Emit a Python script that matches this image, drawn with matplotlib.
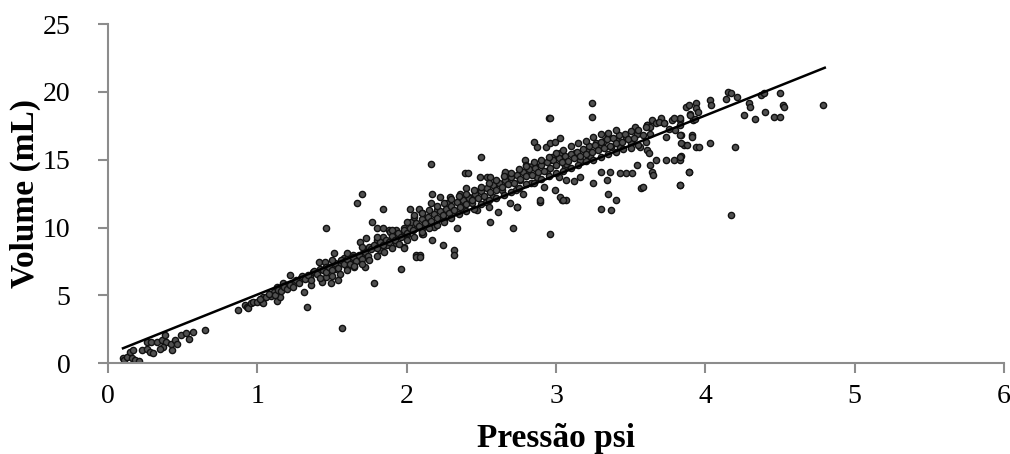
import numpy as np
import matplotlib
matplotlib.use("Agg")
import matplotlib.pyplot as plt

# pressao (psi) x volume (mL)
faixa_baixa = [
    (0.10, 0.35), (0.11, 0.22), (0.125, 0.46), (0.15, 0.83), (0.16, 0.35), (0.17, 0.96),
    (0.18, 0.22), (0.21, 0.17), (0.23, 0.96), (0.26, 1.08), (0.28, 0.83), (0.30, 0.72),
    (0.26, 1.57), (0.29, 1.57), (0.33, 1.57), (0.36, 1.70), (0.38, 2.06), (0.39, 1.57),
    (0.37, 1.20), (0.35, 1.08), (0.43, 0.96), (0.42, 1.45), (0.45, 1.70), (0.46, 1.45),
    (0.49, 2.06), (0.52, 2.19), (0.54, 1.82), (0.57, 2.30), (0.65, 2.43),
    (0.87, 3.90), (0.92, 4.28), (0.93, 4.15), (0.94, 4.10), (0.96, 4.45), (0.97, 4.52),
    (1.00, 4.50), (1.03, 4.52), (1.04, 4.45), (1.04, 4.89), (1.09, 4.94), (1.11, 5.26),
    (1.13, 4.60), (1.13, 5.63), (1.15, 4.89), (1.17, 5.88), (1.21, 5.75), (1.22, 6.49),
    (1.25, 6.00), (1.29, 6.25), (1.31, 5.26), (1.33, 4.15), (1.35, 6.36), (1.36, 5.75),
    (1.375, 6.73), (1.41, 7.47), (1.42, 6.98), (1.43, 6.00), (1.45, 7.47), (1.46, 6.36),
    (1.46, 7.10), (1.46, 9.95), (1.49, 5.88), (1.51, 8.09), (1.52, 6.98), (1.54, 6.12),
    (1.55, 7.35), (1.57, 2.56), (1.58, 7.72), (1.60, 7.10), (1.62, 7.60), (1.64, 7.96),
    (1.65, 7.10), (1.67, 11.8), (1.70, 12.5), (1.68, 7.60), (1.69, 8.95), (1.71, 8.09),
    (1.72, 7.10), (1.73, 9.20), (1.75, 8.58), (1.77, 10.4), (1.78, 5.88), (1.80, 9.07),
    (1.80, 9.93), (1.82, 8.33), (1.84, 9.31), (1.84, 9.93), (1.84, 11.4), (1.87, 8.70),
    (1.88, 9.80), (1.91, 9.20), (1.93, 8.83), (1.96, 6.98), (1.98, 8.58), (1.98, 9.68),
]

faixa_media = [
    (2.00, 9.44), (2.02, 9.80), (2.06, 7.96), (2.09, 7.96), (2.07, 10.05), (2.10, 9.56),
    (1.89, 9.68), (1.93, 9.80), (1.98, 9.93), (1.98, 8.46), (2.02, 11.4), (2.03, 10.4),
    (2.05, 10.8), (2.06, 7.84), (2.09, 7.84), (2.08, 11.4), (2.10, 11.04), (2.11, 10.05),
    (2.11, 9.56), (2.13, 10.5), (2.16, 14.7), (2.16, 11.78), (2.17, 9.07), (2.18, 10.05),
    (2.17, 12.5), (2.20, 11.28), (2.22, 12.26), (2.24, 8.70), (2.25, 10.55), (2.27, 11.78),
    (2.29, 12.26), (2.31, 11.16), (2.32, 8.33), (2.32, 7.96), (2.34, 9.93), (2.35, 11.78),
    (2.36, 12.5), (2.37, 11.4), (2.39, 14.0), (2.41, 14.0), (2.40, 12.9), (2.42, 12.26),
    (2.44, 11.78), (2.47, 11.28), (2.49, 12.76), (2.49, 13.74), (2.50, 15.2), (2.54, 13.74),
    (2.56, 13.74), (2.53, 11.9), (2.55, 11.5), (2.56, 10.4), (2.58, 12.26), (2.60, 13.25),
    (2.61, 11.16), (2.64, 12.76), (2.66, 14.0), (2.67, 13.25), (2.69, 11.78), (2.71, 9.93),
    (2.73, 12.76), (2.74, 11.5), (2.76, 13.5), (2.78, 12.5), (2.79, 15.0), (2.80, 14.2),
    (2.83, 13.25), (2.85, 14.6), (2.87, 13.74), (2.89, 11.9), (2.92, 13.0), (2.94, 14.2),
    (2.96, 9.56), (2.97, 15.2), (2.99, 12.76), (3.02, 13.74), (3.03, 15.5), (3.04, 12.0),
    (3.06, 14.5), (3.07, 12.0), (2.95, 18.1), (2.96, 18.05), (3.24, 19.15), (3.24, 18.16),
    (2.85, 16.3), (2.87, 15.95), (2.93, 15.95), (2.96, 16.2), (2.99, 16.3), (3.03, 16.6),
    (2.66, 14.1), (2.80, 14.6), (2.84, 14.5), (2.96, 15.0), (3.07, 14.7), (3.13, 15.5),
    (3.16, 15.0), (3.21, 15.7), (3.23, 15.3), (3.27, 16.2), (3.30, 15.95), (3.32, 16.4),
]

faixa_alta = [
    (3.35, 16.7), (3.37, 15.95), (3.41, 16.4), (3.43, 15.95), (3.47, 16.7), (3.50, 16.2),
    (3.53, 17.4), (3.54, 16.9), (3.56, 15.95), (3.61, 17.55), (3.63, 16.9), (3.64, 17.9),
    (3.67, 17.7), (3.70, 17.9), (3.72, 17.7), (3.74, 16.7), (3.78, 17.9), (3.80, 17.2),
    (3.83, 17.9), (3.84, 16.8), (3.87, 18.9), (3.90, 18.4), (3.92, 17.9), (3.91, 16.8),
    (3.86, 16.1), (3.94, 15.95), (3.74, 15.0), (3.79, 15.0), (3.83, 15.0), (3.84, 15.25),
    (3.67, 15.0), (3.61, 15.7), (3.62, 15.5), (3.63, 14.6), (3.64, 14.1), (3.65, 13.86),
    (3.57, 12.9), (3.89, 14.1), (3.83, 13.1), (3.54, 14.6), (3.47, 14.0), (3.43, 14.0),
    (3.51, 14.0), (3.36, 14.1), (3.30, 14.1), (3.34, 13.5), (3.35, 12.5), (3.40, 12.0),
    (3.30, 11.4), (3.37, 11.28), (3.25, 13.25), (3.16, 13.74), (3.07, 13.5), (3.12, 13.4),
    (3.03, 12.26), (3.05, 12.0), (2.89, 12.0), (2.74, 11.5),
    (4.15, 20.0), (4.17, 19.9), (4.21, 19.6), (4.14, 19.5), (4.03, 19.4), (4.04, 19.0),
    (3.89, 19.0), (3.94, 19.15), (3.94, 18.8), (3.90, 18.3), (3.93, 18.0), (3.95, 18.5),
    (3.83, 18.05), (3.79, 18.05), (3.70, 18.05), (3.69, 17.8), (3.72, 17.7), (3.61, 17.55),
    (3.63, 17.4), (4.29, 19.15), (4.30, 18.9), (4.37, 19.8), (4.39, 19.9), (4.50, 19.9),
    (4.52, 19.0), (4.53, 18.9), (4.79, 19.0), (4.26, 18.3), (4.33, 18.0), (4.40, 18.5),
    (4.46, 18.16), (4.50, 18.16), (4.03, 16.2), (4.20, 15.95), (3.96, 15.95), (3.91, 16.7),
    (3.83, 16.8), (3.84, 16.2), (3.76, 17.3), (3.83, 17.55), (3.88, 16.1), (3.89, 14.1),
    (3.83, 13.1), (3.83, 15.2), (3.58, 13.0), (4.17, 10.9),
]

faixa_densa = [
    (1.02, 4.7), (1.06, 4.9), (1.08, 5.1), (1.12, 5.0), (1.14, 5.4), (1.16, 5.3), (1.18, 5.6),
    (1.20, 5.5), (1.22, 5.8), (1.24, 5.6), (1.26, 6.1), (1.28, 5.9), (1.30, 6.4), (1.32, 6.2),
    (1.34, 6.5), (1.36, 6.1), (1.38, 6.8), (1.40, 6.6), (1.42, 6.3), (1.44, 6.9), (1.46, 6.7),
    (1.48, 7.1), (1.50, 6.9), (1.52, 7.4), (1.54, 7.0), (1.56, 7.6), (1.58, 7.3), (1.60, 7.7),
    (1.62, 7.3), (1.64, 7.8), (1.66, 7.5), (1.68, 8.0), (1.70, 7.7), (1.72, 8.2), (1.74, 7.9),
    (1.76, 8.4), (1.78, 8.7), (1.80, 8.5), (1.82, 8.9), (1.84, 8.7), (1.86, 9.1), (1.88, 8.9),
    (1.90, 9.4), (1.92, 9.1), (1.94, 9.6), (1.96, 9.3), (1.98, 9.8), (2.00, 9.6), (2.02, 10.0),
    (2.04, 9.8), (2.06, 10.3), (2.08, 10.1), (2.10, 10.6), (2.12, 10.3), (2.14, 10.8),
    (2.16, 10.5), (2.18, 11.0), (2.20, 10.7), (2.22, 11.2), (2.24, 10.9), (2.26, 11.4),
    (2.28, 11.1), (2.30, 11.6), (2.32, 11.3), (2.34, 11.9), (2.36, 11.5), (2.38, 12.0),
    (2.40, 11.7), (2.42, 12.2), (2.44, 12.0), (2.46, 12.5), (2.48, 12.2), (2.50, 12.7),
    (2.52, 12.3), (2.54, 12.9), (2.56, 12.6), (2.58, 13.1), (2.60, 12.8), (2.62, 13.3),
    (2.64, 13.0), (2.66, 13.5), (2.68, 13.2), (2.70, 13.7), (2.72, 13.3), (2.74, 13.9),
    (2.76, 13.6), (2.78, 14.1), (2.80, 13.8), (2.82, 14.3), (2.84, 13.9), (2.86, 14.4),
    (2.88, 14.1), (2.90, 14.6), (2.92, 14.2), (2.94, 14.8), (2.96, 14.4), (2.98, 15.0),
    (3.00, 14.6), (3.02, 15.1), (3.04, 14.8), (3.06, 15.3), (3.08, 14.9), (3.10, 15.4),
    (3.12, 15.1), (3.14, 15.6), (3.16, 15.3), (3.18, 15.8), (3.20, 15.4), (3.22, 16.0),
    (3.24, 15.6), (3.26, 16.1), (3.28, 15.7), (3.30, 16.3), (3.32, 15.9), (3.34, 16.5),
    (3.36, 16.0), (3.38, 16.6), (3.40, 16.2), (3.42, 16.8), (3.44, 16.3), (3.46, 16.9),
    (3.48, 16.5), (3.50, 17.1), (3.52, 16.6), (3.55, 17.2), (3.58, 16.8), (3.60, 17.4),
    (1.50, 6.4), (1.55, 6.6), (1.60, 6.9), (1.65, 7.2), (1.70, 7.3), (1.75, 7.6), (1.80, 7.9),
    (1.85, 8.2), (1.90, 8.5), (1.95, 8.8), (2.00, 9.1), (2.05, 9.3), (2.10, 9.7), (2.15, 10.0),
    (2.20, 10.2), (2.25, 10.4), (2.30, 10.7), (2.35, 11.0), (2.40, 11.2), (2.45, 11.4),
    (2.50, 11.7), (2.55, 12.0), (2.60, 12.2), (2.65, 12.4), (2.70, 12.6), (2.75, 12.9),
    (2.80, 13.2), (2.85, 13.3), (2.90, 13.6), (2.95, 13.8), (3.00, 14.0), (3.05, 14.2),
    (3.10, 14.4), (3.15, 14.6), (3.20, 14.9), (3.25, 15.0), (3.30, 15.2), (3.35, 15.4),
    (3.40, 15.6), (3.45, 15.8), (3.50, 15.9), (3.55, 16.1), (3.60, 16.3),
    (1.50, 7.6), (1.60, 8.1), (1.70, 8.6), (1.80, 9.3), (1.90, 9.8), (2.00, 10.4), (2.05, 10.9),
    (2.10, 11.1), (2.15, 11.3), (2.20, 11.6), (2.25, 11.8), (2.30, 12.1), (2.35, 12.3),
    (2.40, 12.5), (2.45, 12.8), (2.50, 13.0), (2.55, 13.3), (2.60, 13.5), (2.65, 13.8),
    (2.70, 14.0), (2.75, 14.3), (2.80, 14.5), (2.85, 14.8), (2.90, 15.0), (2.95, 15.2),
    (3.00, 15.5), (3.05, 15.7), (3.10, 16.0), (3.15, 16.2), (3.20, 16.4), (3.25, 16.7),
    (3.30, 16.9), (3.35, 17.0), (3.40, 17.2),
]

# linha de tendencia
tendencia_inclinacao = 4.40
tendencia_intercepto = 0.66
tendencia_x = [0.10, 4.80]

x_ticks = [0, 1, 2, 3, 4, 5, 6]
y_ticks = [0, 5, 10, 15, 20, 25]

pontos = np.array(faixa_baixa + faixa_media + faixa_alta + faixa_densa)
pressao = pontos[:, 0]
volume = pontos[:, 1]

plt.rcParams['font.family'] = ['Liberation Serif', 'DejaVu Serif']

fig = plt.figure(figsize=(10.1, 4.54), dpi=100)
ax = fig.add_axes([0.107, 0.200, 0.887, 0.747])

ax.scatter(pressao, volume, s=20, facecolor="#505050", edgecolor="#111111",
           linewidths=1.0, zorder=2)

tx = np.array(tendencia_x)
ax.plot(tx, tendencia_inclinacao * tx + tendencia_intercepto, color="black", lw=1.8, zorder=3)

ax.set_xlim(0, 6)
ax.set_ylim(0, 25)
ax.set_xticks(x_ticks)
ax.set_yticks(y_ticks)

for s in ["top", "right"]:
    ax.spines[s].set_visible(False)
for s in ["left", "bottom"]:
    ax.spines[s].set_color("#8c8c8c")
    ax.spines[s].set_linewidth(1.5)
ax.tick_params(direction="out", length=7, width=1.5, color="#8c8c8c",
               labelsize=20, labelcolor="black")
ax.tick_params(axis="x", pad=8)
ax.tick_params(axis="y", pad=20)

ax.set_xlabel("Pressão psi", fontsize=24, fontweight="bold", labelpad=10)
ax.set_ylabel("Volume (mL)", fontsize=24, fontweight="bold", labelpad=1)

fig.savefig("out.png", dpi=100)
